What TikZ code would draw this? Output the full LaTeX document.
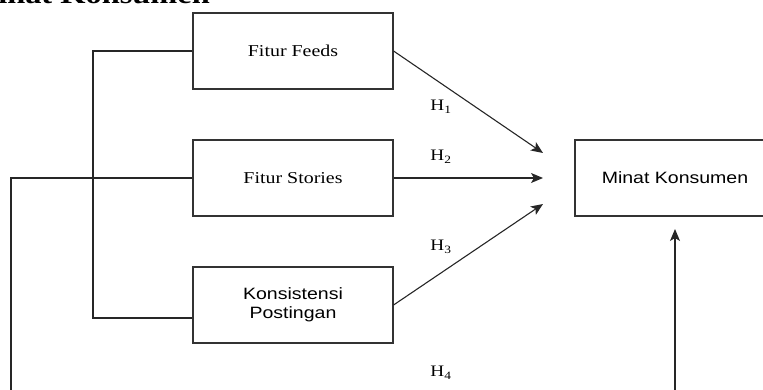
\documentclass[tikz,border=0pt]{standalone}
\usepackage{fontspec}
\usetikzlibrary{arrows.meta,calc}
\newfontfamily\serifst[FakeStretch=1.2]{Liberation Serif}
\newfontfamily\sansst[FakeStretch=1.19]{Liberation Sans}
\tikzset{
  box/.style={draw=black!80, line width=1.1pt, minimum width=200pt, minimum height=76pt, inner sep=0pt, align=center},
  serifbox/.style={box, font=\serifst\fontsize{16.6}{19}\selectfont},
  sansbox/.style={box, font=\sansst\fontsize{16.4}{19}\selectfont},
  conn/.style={draw=black!85, line width=1.1pt},
  arr/.style={conn, -{Stealth[length=12pt,width=10pt,inset=3pt]}},
  hlab/.style={font=\serifst\fontsize{16}{18}\selectfont, inner sep=0pt},
}
\begin{document}
\begin{tikzpicture}[x=1pt,y=-1pt]
\useasboundingbox (0,0) rectangle (763,390);
\node[anchor=base east, inner sep=0pt, font=\serifst\bfseries\fontsize{27}{30}\selectfont] (title) at (210,4) {Minat Konsumen};
\node[serifbox] (feeds) at (293,51) {Fitur Feeds};
\node[serifbox] (stories) at (293,178) {Fitur Stories};
\node[sansbox] (kons) at (293,305) {Konsistensi\\Postingan};
\node[sansbox] (minat) at (675,178) {Minat Konsumen};
\coordinate (t1) at (543,153);
\coordinate (t2) at (543,178);
\coordinate (t3) at (543,204);
\coordinate (ma) at (675,229);
\coordinate (bl) at (11,430);
\coordinate (ml) at (93,318);
\draw[arr] (feeds.east) -- (t1);
\draw[arr] (stories.east) -- (t2);
\draw[arr] (kons.east) -- (t3);
\draw[conn] (feeds.west) -| (ml) -- ($(kons.west)+(0,13)$);
\draw[arr] (stories.west) -| (bl) -| (ma);
\node[hlab] (h1) at (441,107) {H\textsubscript{1}};
\node[hlab] (h2) at (441,157) {H\textsubscript{2}};
\node[hlab] (h3) at (441,247) {H\textsubscript{3}};
\node[hlab] (h4) at (441,373) {H\textsubscript{4}};
\end{tikzpicture}
\end{document}
